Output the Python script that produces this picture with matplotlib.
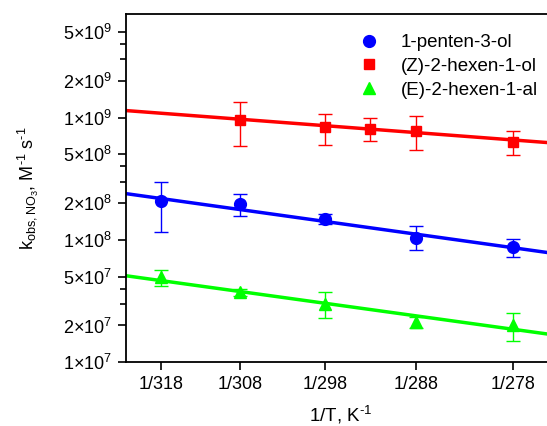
import matplotlib
matplotlib.use('Agg')
import numpy as np
import matplotlib.pyplot as plt
from matplotlib.lines import Line2D
from matplotlib.ticker import FixedLocator, FuncFormatter

# ############################
###### Data ##################
############################
tick_temps = [318, 308, 298, 288, 278]

# 1-penten-3-ol
T_pent = np.array([318, 308, 298, 288, 278])
k_pent = np.array([2.07e8, 1.98e8, 1.47e8, 1.04e8, 8.7e7])
k_pent_hi = np.array([2.95e8, 2.38e8, 1.64e8, 1.29e8, 1.02e8])
k_pent_lo = np.array([1.15e8, 1.56e8, 1.34e8, 8.2e7, 7.2e7])

# (Z)-2-hexen-1-ol
T_hexol = np.array([308, 298, 293, 288, 278])
k_hexol = np.array([9.55e8, 8.3e8, 8.05e8, 7.8e8, 6.35e8])
k_hexol_hi = np.array([1.35e9, 1.06e9, 1.0e9, 1.02e9, 7.8e8])
k_hexol_lo = np.array([5.8e8, 6.0e8, 6.4e8, 5.45e8, 4.9e8])

# (E)-2-hexen-1-al
T_hexal = np.array([318, 308, 298, 288, 278])
k_hexal = np.array([4.95e7, 3.75e7, 3.0e7, 2.15e7, 2.0e7])
k_hexal_hi = np.array([5.7e7, 4.0e7, 3.75e7, 2.35e7, 2.55e7])
k_hexal_lo = np.array([4.2e7, 3.5e7, 2.3e7, 1.9e7, 1.5e7])

# Arrhenius fits: k = A * exp(-EaR / T)
A_pent, EaR_pent = 1.37e11, 2049.0
A_hexol, EaR_hexol = 3.59e10, 1113.0
A_hexal, EaR_hexal = 2.73e10, 2027.0

labels = ['1-penten-3-ol', '(Z)-2-hexen-1-ol', '(E)-2-hexen-1-al']
colors = ['#0000ff', '#ff0000', '#00ff00']
markers = ['o', 's', '^']
msizes = [8.5, 7.5, 8.0]

# ############################
###### Plot ##################
############################
plt.rcParams['font.family'] = 'Liberation Sans'
plt.rcParams['mathtext.fontset'] = 'custom'
plt.rcParams['mathtext.rm'] = 'Liberation Sans'
plt.rcParams['mathtext.it'] = 'Liberation Sans:italic'

fig = plt.figure(figsize=(5.47, 4.26), dpi=100)
ax = fig.add_axes([0.2303, 0.1495, 0.7836, 0.8175])

xlim = (0.0031, 0.00365)
xfit = np.linspace(xlim[0], xlim[1], 50)

series = [
    (T_pent, k_pent, k_pent_lo, k_pent_hi, A_pent, EaR_pent),
    (T_hexol, k_hexol, k_hexol_lo, k_hexol_hi, A_hexol, EaR_hexol),
    (T_hexal, k_hexal, k_hexal_lo, k_hexal_hi, A_hexal, EaR_hexal),
]

for (T, k, lo, hi, A, EaR), c, m, ms in zip(series, colors, markers, msizes):
    x = 1.0 / T
    ax.plot(xfit, A * np.exp(-EaR * xfit), color=c, lw=2.5, zorder=2)
    ax.errorbar(x, k, yerr=[k - lo, hi - k], fmt='none', ecolor=c,
                elinewidth=1.0, capsize=5, capthick=1.0, zorder=3)
    ax.plot(x, k, ls='none', marker=m, ms=ms, color=c, mec=c, zorder=4)

ax.set_yscale('log')
ax.set_xlim(*xlim)
ax.set_ylim(1e7, 7e9)

ax.set_xticks([1.0 / t for t in tick_temps])
ax.set_xticklabels(['1/%d' % t for t in tick_temps])
ax.xaxis.set_minor_locator(FixedLocator([]))

major_y = [1e7, 2e7, 5e7, 1e8, 2e8, 5e8, 1e9, 2e9, 5e9]
minor_y = [3e7, 4e7, 3e8, 4e8, 3e9, 4e9]


def sci_fmt(v, pos):
    e = int(np.floor(np.log10(v) + 1e-9))
    m = int(round(v / 10 ** e))
    return '%d×10$^{%d}$' % (m, e)


ax.yaxis.set_major_locator(FixedLocator(major_y))
ax.yaxis.set_minor_locator(FixedLocator(minor_y))
ax.yaxis.set_major_formatter(FuncFormatter(sci_fmt))
ax.yaxis.set_minor_formatter(FuncFormatter(lambda v, p: ''))

ax.tick_params(axis='both', which='major', direction='out', length=6,
               width=1.2, labelsize=13)
ax.tick_params(axis='y', which='minor', direction='out', length=4.5, width=1.2)
ax.tick_params(axis='y', which='major', pad=4)
ax.tick_params(axis='x', which='major', pad=4)
for s in ['left', 'bottom', 'top', 'right']:
    ax.spines[s].set_linewidth(1.3)

ax.set_xlabel(r'1/T, K$^{\text{-}1}$', fontsize=13.5, labelpad=8)
ax.set_ylabel(r'k$_{\mathrm{obs,NO_3}}$, M$^{\text{-}1}$ s$^{\text{-}1}$',
              fontsize=13, labelpad=16)

handles = [Line2D([], [], ls='none', marker=m, ms=ms, color=c)
           for m, ms, c in zip(markers, msizes, colors)]
fig.legend(handles, labels, loc='upper left', bbox_to_anchor=(0.657, 0.92),
           frameon=False, fontsize=13.5, handlelength=1.0, handletextpad=1.2,
           labelspacing=0.35, borderpad=0, borderaxespad=0)

fig.savefig('out.png', dpi=100)
